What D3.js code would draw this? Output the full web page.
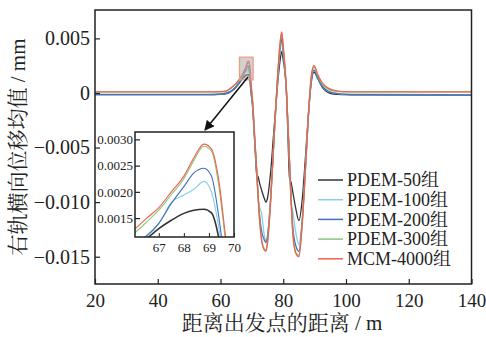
<!DOCTYPE html>
<html>
<head>
  <meta charset="utf-8">
  <script src="https://cdn.jsdelivr.net/npm/d3@7"></script>
  <style>
    body { margin: 0; background: white; }
    svg { display: block; }
    text { font-family: "Liberation Serif", "Noto Serif CJK SC", "Noto Sans CJK SC", serif; fill: #222; }
  </style>
</head>
<body>
  <script>
    // distance along track (m)
    const xs = [20, 40, 50, 56, 60, 62, 63.5, 65, 66, 66.5, 67, 67.5, 68, 68.4, 68.8, 69.1, 69.4, 69.7, 70.2, 71,
      71.5, 72, 72.5, 73, 74, 74.5, 75, 76, 77, 78, 79, 79.5, 80, 81, 81.5, 82, 82.5, 83, 84, 85,
      86, 87, 88, 89, 89.8, 91, 92.5, 94, 96, 99, 105, 140]

    const pdem50 = [-0.00015, -0.00015, -0.00015, -0.00015, -0.00012, -0.00005, 0.00015, 0.00055, 0.0009, 0.0011,
      0.0013, 0.00146, 0.00159, 0.00165, 0.00167, 0.0016, 0.0011, 0.0001, -0.0012, -0.0050,
      -0.0074, -0.0077, -0.0083, -0.0088, -0.0097, -0.0100, -0.0096, -0.0072, -0.0035, 0.0001,
      0.0030, 0.0038, 0.0030, 0.0001, -0.0040, -0.0078, -0.0082, -0.0090, -0.0106, -0.0117,
      -0.0099, -0.0062, -0.0020, 0.0011, 0.0019, 0.0013, 0.0005, 0.0001, -0.0001, -0.00015, -0.00018, -0.0002]
    const pdem100 = [-0.00012, -0.00012, -0.00012, -0.00012, -0.0001, 0.0, 0.0002, 0.0006, 0.00098, 0.00114,
      0.0014, 0.0018, 0.00194, 0.00205, 0.0022, 0.0020, 0.0013, 0.0003, -0.0010, -0.0048,
      -0.0070, -0.0094, -0.0106, -0.0109, -0.0131, -0.0136, -0.0130, -0.0095, -0.0045, 0.0003,
      0.0039, 0.0047, 0.0036, 0.0002, -0.0030, -0.0066, -0.0101, -0.0108, -0.0128, -0.0139,
      -0.0117, -0.0072, -0.0022, 0.0013, 0.0021, 0.0014, 0.0006, 0.0002, 0.0, -0.0001, -0.00012, -0.00015]
    const pdem200 = [-0.00015, -0.00015, -0.00015, -0.00015, -0.0001, 0.0, 0.0002, 0.0006, 0.0010, 0.00116,
      0.0014, 0.00178, 0.0021, 0.00236, 0.00245, 0.0023, 0.0015, 0.0004, -0.0009, -0.0047,
      -0.0070, -0.0096, -0.0113, -0.0125, -0.0135, -0.0137, -0.0131, -0.0096, -0.0045, 0.0004,
      0.0041, 0.0050, 0.0038, 0.0002, -0.0030, -0.0064, -0.0096, -0.0121, -0.0140, -0.0145,
      -0.0119, -0.0073, -0.0022, 0.0013, 0.0021, 0.0014, 0.0006, 0.0002, 0.0, -0.0001, -0.00015, -0.00018]
    const pdem300 = [0.0001, 0.0001, 0.0001, 0.0001, 0.00011, 0.0002, 0.00045, 0.00085, 0.0012, 0.00142,
      0.00165, 0.00195, 0.00225, 0.0026, 0.00287, 0.00278, 0.0021, 0.0009, -0.0007, -0.0046,
      -0.0069, -0.0096, -0.0118, -0.0132, -0.0143, -0.0144, -0.0136, -0.0098, -0.0045, 0.0006,
      0.0045, 0.0055, 0.0042, 0.0003, -0.0029, -0.0063, -0.0098, -0.0126, -0.0146, -0.0149,
      -0.0121, -0.0074, -0.0021, 0.0016, 0.0024, 0.0016, 0.0008, 0.0004, 0.0002, 0.0001, 0.0001, 0.0001]
    const mcm4000 = [0.0001, 0.0001, 0.0001, 0.0001, 0.00012, 0.0002, 0.0005, 0.0009, 0.00127, 0.00149,
      0.0017, 0.0020, 0.0023, 0.00265, 0.00291, 0.00282, 0.0022, 0.0010, -0.0006, -0.0045,
      -0.0068, -0.0095, -0.0118, -0.0133, -0.0144, -0.0145, -0.0137, -0.0099, -0.0045, 0.0007,
      0.0046, 0.0056, 0.0043, 0.0004, -0.0028, -0.0062, -0.0098, -0.0127, -0.0147, -0.0150,
      -0.0122, -0.0074, -0.0021, 0.0017, 0.0025, 0.0017, 0.0009, 0.0005, 0.00025, 0.00012, 0.0001, 0.0001]

    const names = ['PDEM-50组', 'PDEM-100组', 'PDEM-200组', 'PDEM-300组', 'MCM-4000组']
    const seriesValues = [pdem50, pdem100, pdem200, pdem300, mcm4000]
    const colors = ['#333333', '#86d0e6', '#4470c0', '#86c97a', '#f2604c']

    const xTicks = [20, 40, 60, 80, 100, 120, 140]
    const yTicks = [0.005, 0, -0.005, -0.010, -0.015]
    const insetXTicks = [67, 68, 69, 70]
    const insetYTicks = [0.0015, 0.0020, 0.0025, 0.0030]

    const width = 486, height = 337
    const svg = d3.select('body').append('svg')
      .attr('width', width).attr('height', height)

    const x = d3.scaleLinear().domain([20, 140]).range([95, 471.5])
    const y = d3.scaleLinear().domain([-0.0175, 0.0076]).range([284, 10])

    const series = seriesValues.map((vals, i) => ({
      name: names[i], color: colors[i],
      points: xs.map((xv, j) => [xv, vals[j]])
    }))

    svg.append('clipPath').attr('id', 'main-clip')
      .append('rect')
      .attr('x', x(20)).attr('y', y(0.0076))
      .attr('width', x(140) - x(20)).attr('height', y(-0.0175) - y(0.0076))

    const line = d3.line().curve(d3.curveMonotoneX)
      .x(d => x(d[0])).y(d => y(d[1]))

    const mainG = svg.append('g').attr('clip-path', 'url(#main-clip)')
    series.forEach(s => {
      mainG.append('path')
        .attr('d', line(s.points))
        .attr('fill', 'none')
        .attr('stroke', s.color)
        .attr('stroke-width', 1.3)
    })

    // axes, ticks inward
    const fmtY = v => v === 0 ? '0' : d3.format('.3f')(v)
    svg.append('g')
      .attr('transform', `translate(0,${y(-0.0175)})`)
      .call(d3.axisBottom(x).tickValues(xTicks).tickSize(-5).tickPadding(10))
      .call(g => g.select('.domain').remove())
      .call(g => g.selectAll('line').attr('stroke', '#222').attr('stroke-width', 1.2))
      .call(g => g.selectAll('text').style('font-size', '19px').style('font-family', '"Liberation Serif", serif'))
    svg.append('g')
      .attr('transform', `translate(${x(20)},0)`)
      .call(d3.axisLeft(y).tickValues(yTicks).tickFormat(fmtY).tickSize(-5).tickPadding(5))
      .call(g => g.select('.domain').remove())
      .call(g => g.selectAll('line').attr('stroke', '#222').attr('stroke-width', 1.2))
      .call(g => g.selectAll('text').style('font-size', '20px').style('font-family', '"Liberation Serif", serif'))

    svg.append('rect')
      .attr('x', x(20)).attr('y', y(0.0076))
      .attr('width', x(140) - x(20)).attr('height', y(-0.0175) - y(0.0076))
      .attr('fill', 'none').attr('stroke', '#222').attr('stroke-width', 1.5)

    // axis titles
    svg.append('text')
      .attr('transform', `translate(18,${(y(0.0076) + y(-0.0175)) / 2}) rotate(-90)`)
      .attr('text-anchor', 'middle').attr('dy', '0.35em')
      .style('font-size', '21px')
      .text('右轨横向位移均值 / mm')
    svg.append('text')
      .attr('x', 282).attr('y', 330)
      .attr('text-anchor', 'middle')
      .style('font-size', '21px')
      .text('距离出发点的距离 / m')

    // inset
    const ix = d3.scaleLinear().domain([66.05, 70]).range([135, 234])
    const iy = d3.scaleLinear().domain([0.00114, 0.00314]).range([237, 132])

    // zoom box on main chart
    svg.append('rect')
      .attr('x', x(66.05)).attr('y', y(0.00328))
      .attr('width', x(70.4) - x(66.05)).attr('height', y(0.0012) - y(0.00328))
      .attr('fill', '#b0aaa8').attr('fill-opacity', 0.55)
      .attr('stroke', '#eb9a86').attr('stroke-width', 1.2)

    svg.append('defs').append('marker')
      .attr('id', 'arrow').attr('viewBox', '0 0 10 10')
      .attr('refX', 9).attr('refY', 5)
      .attr('markerWidth', 10).attr('markerHeight', 10)
      .attr('markerUnits', 'userSpaceOnUse')
      .attr('orient', 'auto')
      .append('path').attr('d', 'M0,0 L10,5 L0,10 Z').attr('fill', '#111')
    svg.append('line')
      .attr('x1', 248).attr('y1', 77).attr('x2', 205).attr('y2', 130)
      .attr('stroke', '#111').attr('stroke-width', 1.5)
      .attr('marker-end', 'url(#arrow)')

    svg.append('clipPath').attr('id', 'inset-clip')
      .append('rect').attr('x', 135).attr('y', 132).attr('width', 99).attr('height', 105)

    svg.append('rect')
      .attr('x', 135).attr('y', 132).attr('width', 99).attr('height', 105)
      .attr('fill', 'white')

    const iline = d3.line().curve(d3.curveMonotoneX)
      .x(d => ix(d[0])).y(d => iy(d[1]))
    const insetG = svg.append('g').attr('clip-path', 'url(#inset-clip)')
    series.forEach((s, i) => {
      insetG.append('path')
        .attr('d', iline(s.points))
        .attr('fill', 'none')
        .attr('stroke', s.color)
        .attr('stroke-width', i === 0 ? 1.6 : 1.1)
    })

    svg.append('g')
      .attr('transform', 'translate(0,237)')
      .call(d3.axisBottom(ix).tickValues(insetXTicks).tickFormat(d3.format('d')).tickSize(-4).tickPadding(6))
      .call(g => g.select('.domain').remove())
      .call(g => g.selectAll('line').attr('stroke', '#222'))
      .call(g => g.selectAll('text').style('font-size', '13px').style('font-family', '"Liberation Serif", serif'))
    svg.append('g')
      .attr('transform', 'translate(135,0)')
      .call(d3.axisLeft(iy).tickValues(insetYTicks).tickFormat(d3.format('.4f')).tickSize(-5).tickPadding(2))
      .call(g => g.select('.domain').remove())
      .call(g => g.selectAll('line').attr('stroke', '#222').attr('stroke-width', 1.2))
      .call(g => g.selectAll('text').style('font-size', '13px').style('font-family', '"Liberation Serif", serif'))

    svg.append('rect')
      .attr('x', 135).attr('y', 132).attr('width', 99).attr('height', 105)
      .attr('fill', 'none').attr('stroke', '#222').attr('stroke-width', 1.5)

    // legend
    const legend = svg.append('g').attr('transform', 'translate(318,180)')
    series.forEach((s, i) => {
      const row = legend.append('g').attr('transform', `translate(0,${i * 19.7})`)
      row.append('line').attr('x1', 0).attr('x2', 25).attr('y1', 0).attr('y2', 0)
        .attr('stroke', s.color).attr('stroke-width', 1.5)
      row.append('text').attr('x', 29).attr('dy', '0.35em')
        .style('font-size', '18px')
        .text(s.name)
    })
  </script>
</body>
</html>
